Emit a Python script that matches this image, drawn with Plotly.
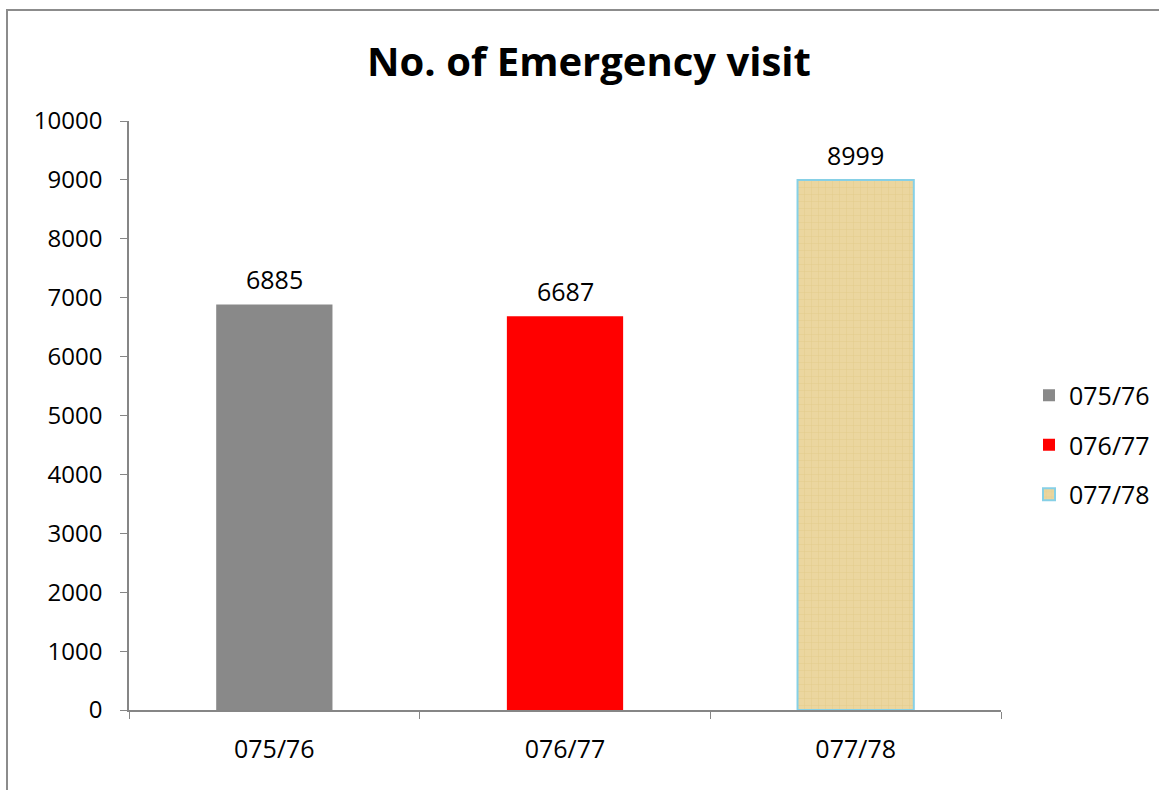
import plotly.graph_objects as go

# Emergency visits per fiscal year
years = ["075/76", "076/77", "077/78"]
visits = [6885, 6687, 8999]
fill_colors = ["#898989", "#FF0000", "#EAD49A"]
edge_colors = ["#898989", "#FF0000", "#86D0E6"]
edge_widths = [0, 0, 2]

W, H = 1159, 790
L, R, T, B = 129, 1001, 121, 710

FONT = "Open Sans"
FS = 25

fig = go.Figure()
for i, (yr, v) in enumerate(zip(years, visits)):
    marker = dict(color=fill_colors[i], line=dict(color=edge_colors[i], width=edge_widths[i]))
    if i == 2:
        # woven papyrus-like texture on the last bar
        marker["pattern"] = dict(shape="+", bgcolor="#EBD69F", fgcolor="#CDB25E",
                                 fgopacity=0.35, size=7, solidity=0.12)
    fig.add_trace(go.Bar(
        x=[yr], y=[v], name=yr, width=0.4,
        marker=marker,
        legendgroup=yr,
    ))
    # value label above each bar
    fig.add_annotation(x=yr, y=v, text=str(v), showarrow=False,
                       yanchor="middle", yshift=25,
                       font=dict(family=FONT, size=FS, color="#000000"))

axis_color = "#868686"
fig.update_layout(
    width=W, height=H,
    margin=dict(l=L, r=W - R, t=T, b=H - B, autoexpand=False),
    paper_bgcolor="white", plot_bgcolor="white",
    barmode="overlay",
    font=dict(family=FONT, size=FS, color="#000000"),
    title=dict(text="<b>No. of Emergency visit</b>", x=589 / W, xref="container",
               y=1 - 62 / H, yref="container", xanchor="center", yanchor="middle",
               font=dict(family=FONT, size=40, color="#000000")),
    xaxis=dict(showline=True, linecolor=axis_color, linewidth=1.5,
               ticks="outside", tickson="boundaries", ticklen=7, tickcolor=axis_color,
               showgrid=False, ticklabelstandoff=16,
               tickfont=dict(family=FONT, size=FS, color="#000000")),
    yaxis=dict(range=[0, 10000], dtick=1000, tickformat="d", showline=True,
               linecolor=axis_color, linewidth=1.5, ticks="outside", ticklen=7,
               tickcolor=axis_color, showgrid=False, zeroline=False,
               ticklabelstandoff=13,
               tickfont=dict(family=FONT, size=24, color="#000000")),
    legend=dict(x=(1029 - L) / (R - L), y=(B - 445) / (B - T), xanchor="left",
                yanchor="middle", tracegroupgap=14, itemwidth=30,
                font=dict(family=FONT, size=FS, color="#000000"),
                bgcolor="rgba(0,0,0,0)"),
    showlegend=True,
)

# outer chart frame
fig.add_shape(type="rect", xref="paper", yref="paper",
              x0=(7 - L) / (R - L), x1=(W + 20 - L) / (R - L),
              y0=(B - (H + 20)) / (B - T), y1=(B - 10) / (B - T),
              line=dict(color="#8C8C8C", width=2), fillcolor="rgba(0,0,0,0)", layer="below")

fig.write_html("out.html")
